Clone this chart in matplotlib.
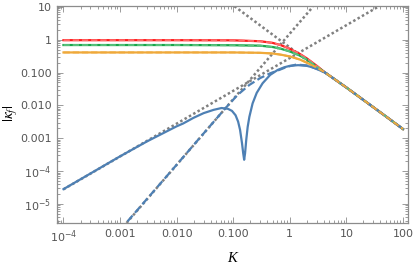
import matplotlib
matplotlib.use("Agg")
import matplotlib.pyplot as plt
from matplotlib.ticker import FixedLocator, NullFormatter, LogLocator

plt.rcParams['mathtext.fontset'] = 'dejavusans'

# ---- data ----
K_flat = [1e-4, 0.01, 0.1, 0.3, 0.5, 0.7, 1.0, 1.5, 2.0, 3.0, 4.2, 6.0, 10.0, 20.0, 50.0, 100.0]
red_vals = [0.97, 0.97, 0.96, 0.90, 0.80, 0.68, 0.53, 0.37, 0.27, 0.16, 0.10, 0.065, 0.035, 0.0146, 0.0046, 0.0019]
green_vals = [0.69, 0.69, 0.68, 0.66, 0.60, 0.53, 0.44, 0.33, 0.25, 0.15, 0.10, 0.065, 0.035, 0.0146, 0.0046, 0.0019]
orange_vals = [0.41, 0.41, 0.41, 0.40, 0.38, 0.35, 0.31, 0.25, 0.20, 0.14, 0.10, 0.065, 0.035, 0.0146, 0.0046, 0.0019]

K_blue = [1e-4, 3e-4, 1e-3, 3e-3, 0.01, 0.013, 0.02, 0.03, 0.045, 0.062, 0.08, 0.095,
          0.11, 0.122, 0.132, 0.143, 0.15, 0.156, 0.162, 0.17, 0.18, 0.193, 0.22, 0.26,
          0.33, 0.45, 0.61, 0.8, 1.0, 1.4, 2.0, 2.5, 3.1, 4.2, 6.0, 10.0, 20.0, 50.0, 100.0]
blue_vals = [2.8e-5, 8.4e-5, 2.8e-4, 8.0e-4, 0.0023, 0.0028, 0.0042, 0.0058, 0.0073, 0.0083, 0.0079, 0.0068,
             0.0050, 0.0032, 0.0018, 7e-4, 3.5e-4, 2.2e-4, 3.5e-4, 9e-4, 0.0022, 0.0045, 0.0115, 0.024,
             0.047, 0.085, 0.12, 0.145, 0.16, 0.168, 0.16, 0.145, 0.125, 0.10, 0.065, 0.035, 0.0146, 0.0046, 0.0019]

K_bdash = [0.001, 0.01, 0.03, 0.076, 0.12, 0.193, 0.3, 0.45, 0.61, 0.9, 1.3, 2.0, 3.0, 4.2, 6.0, 10.0, 20.0, 50.0, 100.0]
bdash_vals = [1.6e-6, 1.55e-4, 0.0014, 0.0089, 0.021, 0.042, 0.068, 0.095, 0.115, 0.15, 0.175, 0.165, 0.13, 0.10, 0.065, 0.035, 0.0146, 0.0046, 0.0019]

# gray dotted reference lines (end points)
K_gray_lin = [1e-4, 36.0]
gray_lin_vals = [2.77e-5, 10.0]
K_gray_sq = [1e-3, 2.55]
gray_sq_vals = [1.54e-6, 10.0]
K_gray_inv = [0.105, 2.3]
gray_inv_vals = [10.5, 0.2]

xticks = [1e-4, 1e-3, 1e-2, 1e-1, 1, 10, 100]
xticklabels = [r'$10^{-4}$', '0.001', '0.010', '0.100', '1', '10', '100']
yticks = [1e-5, 1e-4, 1e-3, 1e-2, 1e-1, 1, 10]
yticklabels = [r'$10^{-5}$', r'$10^{-4}$', '0.001', '0.010', '0.100', '1', '10']

c_red = '#FF1A1A'
c_green = '#1AA64A'
c_orange = '#EFA93A'
c_blue = '#4E80B4'
c_gray = '#808080'

fig = plt.figure(figsize=(4.15, 2.70), dpi=100)
ax = fig.add_axes([0.1373, 0.174, 0.8457, 0.804])

dot = (0, (1.0, 1.0))
for kk, vv in [(K_gray_lin, gray_lin_vals), (K_gray_sq, gray_sq_vals), (K_gray_inv, gray_inv_vals)]:
    ax.plot(kk, vv, color=c_gray, lw=1.8, ls=dot, zorder=2)

lw = 1.6
ax.plot(K_flat, red_vals, color=c_red, lw=lw, zorder=3)
ax.plot(K_flat, green_vals, color=c_green, lw=lw, zorder=3)
ax.plot(K_flat, orange_vals, color=c_orange, lw=lw, zorder=3)
ax.plot(K_blue, blue_vals, color=c_blue, lw=lw, zorder=3)

dash = (0, (3.5, 1.6))
ax.plot(K_flat, red_vals, color='#FF6B6B', lw=1.3, ls=dash, zorder=4)
ax.plot(K_flat, green_vals, color='#5CC27E', lw=1.3, ls=dash, zorder=4)
ax.plot(K_bdash, bdash_vals, color=c_blue, lw=lw, ls=dash, zorder=4)
ax.plot(K_flat, orange_vals, color=c_orange, lw=1.3, ls=dash, zorder=5)

ax.set_xscale('log')
ax.set_yscale('log')
ax.set_xlim(10**-4.115, 10**2.088)
ax.set_ylim(10**-5.585, 10**1.03)

ax.xaxis.set_major_locator(FixedLocator(xticks))
ax.set_xticklabels(xticklabels)
ax.yaxis.set_major_locator(FixedLocator(yticks))
ax.set_yticklabels(yticklabels)
ax.xaxis.set_minor_locator(LogLocator(base=10, subs=range(2, 10), numticks=20))
ax.yaxis.set_minor_locator(LogLocator(base=10, subs=range(2, 10), numticks=20))
ax.xaxis.set_minor_formatter(NullFormatter())
ax.yaxis.set_minor_formatter(NullFormatter())

tick_col = '#8C8C8C'
ax.tick_params(which='both', direction='in', top=True, right=True, color=tick_col,
               labelsize=8, labelcolor='#555555', width=0.6)
ax.tick_params(which='major', length=4, pad=4)
ax.tick_params(which='minor', length=2)
for s in ax.spines.values():
    s.set_color(tick_col)
    s.set_linewidth(0.9)

ax.set_xlabel('K', fontsize=10.5, family='Liberation Serif', fontstyle='italic')
ax.xaxis.set_label_coords(0.50, -0.135)
ax.set_ylabel(r'$|\kappa_f|$', fontsize=11, math_fontfamily='stix')
ax.yaxis.set_label_coords(-0.106, 0.507)

fig.savefig('out.png', dpi=100)
